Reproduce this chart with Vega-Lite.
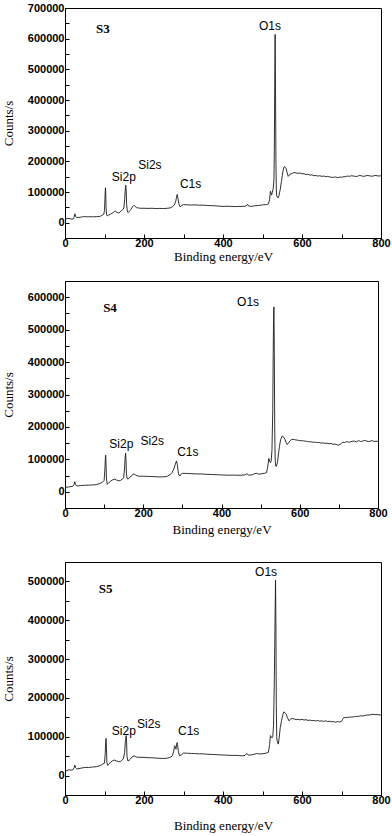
{
"$schema": "https://vega.github.io/schema/vega-lite/v6.json",
"padding": {"left": 1, "top": 1, "right": 2, "bottom": 0},
"background": "white",
"config": {
  "view": {"stroke": "black", "strokeWidth": 1},
  "axis": {"grid": false, "domainColor": "black", "tickColor": "black", "labelColor": "black", "titleColor": "black",
    "labelFont": "Liberation Sans", "labelFontWeight": "bold", "labelFontSize": 11,
    "titleFont": "Liberation Serif", "titleFontWeight": "normal", "titleFontSize": 13,
    "labelFlush": false, "labelOverlap": false, "tickSize": -4},
  "axisX": {"labelPadding": 3},
  "axisY": {"labelPadding": 5}
},
"datasets": {
  "s3": [{"E":0,"c":11000},{"E":5,"c":13000},{"E":10,"c":14000},{"E":15,"c":12000},{"E":20,"c":11000},{"E":23,"c":18000},{"E":25,"c":29000},{"E":27,"c":20000},{"E":30,"c":17000},{"E":35,"c":17000},{"E":40,"c":18000},{"E":45,"c":19000},{"E":50,"c":20000},{"E":55,"c":19000},{"E":60,"c":19500},{"E":70,"c":19000},{"E":80,"c":19500},{"E":90,"c":21000},{"E":95,"c":25000},{"E":98,"c":27000},{"E":100,"c":40000},{"E":101,"c":75000},{"E":102,"c":105000},{"E":102.5,"c":114000},{"E":103,"c":100000},{"E":104,"c":50000},{"E":105,"c":28000},{"E":107,"c":22000},{"E":110,"c":24000},{"E":115,"c":28000},{"E":120,"c":31000},{"E":125,"c":36000},{"E":128,"c":37000},{"E":132,"c":33000},{"E":137,"c":32000},{"E":142,"c":38000},{"E":146,"c":42000},{"E":149,"c":48000},{"E":151,"c":75000},{"E":153,"c":115000},{"E":154,"c":122000},{"E":155,"c":100000},{"E":156,"c":60000},{"E":158,"c":35000},{"E":160,"c":33000},{"E":163,"c":38000},{"E":167,"c":43000},{"E":171,"c":52000},{"E":174,"c":56000},{"E":177,"c":54000},{"E":181,"c":49000},{"E":186,"c":48000},{"E":190,"c":47000},{"E":200,"c":47000},{"E":210,"c":46500},{"E":220,"c":47000},{"E":230,"c":46000},{"E":240,"c":46500},{"E":250,"c":46000},{"E":260,"c":47000},{"E":266,"c":48000},{"E":272,"c":52000},{"E":277,"c":58000},{"E":280,"c":68000},{"E":282,"c":80000},{"E":284,"c":92000},{"E":286,"c":80000},{"E":288,"c":64000},{"E":290,"c":55000},{"E":292,"c":51000},{"E":295,"c":56000},{"E":300,"c":59000},{"E":310,"c":58000},{"E":320,"c":57500},{"E":330,"c":58000},{"E":340,"c":57000},{"E":350,"c":57000},{"E":360,"c":56000},{"E":370,"c":55500},{"E":380,"c":55000},{"E":390,"c":54000},{"E":400,"c":53000},{"E":410,"c":53500},{"E":420,"c":53000},{"E":430,"c":52500},{"E":440,"c":53000},{"E":450,"c":53000},{"E":458,"c":54000},{"E":462,"c":60000},{"E":465,"c":54000},{"E":470,"c":53000},{"E":480,"c":55000},{"E":490,"c":56000},{"E":500,"c":58000},{"E":510,"c":59000},{"E":515,"c":61000},{"E":518,"c":75000},{"E":520,"c":103000},{"E":522,"c":95000},{"E":523,"c":90000},{"E":525,"c":100000},{"E":527,"c":110000},{"E":529,"c":140000},{"E":530,"c":250000},{"E":531,"c":450000},{"E":532,"c":614000},{"E":533,"c":420000},{"E":534,"c":200000},{"E":535,"c":110000},{"E":536,"c":87000},{"E":538,"c":82000},{"E":540,"c":81000},{"E":542,"c":90000},{"E":545,"c":109000},{"E":548,"c":135000},{"E":550,"c":153000},{"E":552,"c":170000},{"E":555,"c":183000},{"E":558,"c":180000},{"E":560,"c":176000},{"E":562,"c":165000},{"E":565,"c":151000},{"E":568,"c":155000},{"E":570,"c":159000},{"E":575,"c":160000},{"E":580,"c":164000},{"E":585,"c":162000},{"E":590,"c":161000},{"E":595,"c":162000},{"E":600,"c":159000},{"E":605,"c":160000},{"E":610,"c":157000},{"E":615,"c":158000},{"E":620,"c":155000},{"E":625,"c":156000},{"E":630,"c":153000},{"E":635,"c":154000},{"E":640,"c":152000},{"E":645,"c":153000},{"E":650,"c":151000},{"E":655,"c":152000},{"E":660,"c":150000},{"E":665,"c":151000},{"E":670,"c":149000},{"E":675,"c":148000},{"E":680,"c":148000},{"E":685,"c":149000},{"E":690,"c":147000},{"E":695,"c":148500},{"E":700,"c":148000},{"E":705,"c":150000},{"E":710,"c":150000},{"E":715,"c":152000},{"E":720,"c":151000},{"E":725,"c":153000},{"E":730,"c":152000},{"E":735,"c":151000},{"E":740,"c":151000},{"E":745,"c":154000},{"E":750,"c":153000},{"E":755,"c":151000},{"E":760,"c":152000},{"E":765,"c":154000},{"E":770,"c":153000},{"E":775,"c":151500},{"E":780,"c":152000},{"E":785,"c":154000},{"E":790,"c":153000},{"E":795,"c":152000},{"E":800,"c":153000}],
  "s4": [{"E":0,"c":13000},{"E":5,"c":14000},{"E":10,"c":15000},{"E":15,"c":16000},{"E":20,"c":17000},{"E":23,"c":22000},{"E":25,"c":31000},{"E":27,"c":22000},{"E":30,"c":18000},{"E":40,"c":19000},{"E":50,"c":20000},{"E":60,"c":20500},{"E":70,"c":21000},{"E":80,"c":22000},{"E":90,"c":26000},{"E":96,"c":30000},{"E":100,"c":35000},{"E":102,"c":70000},{"E":103,"c":100000},{"E":104,"c":113000},{"E":105,"c":80000},{"E":106,"c":40000},{"E":108,"c":23000},{"E":112,"c":28000},{"E":117,"c":33000},{"E":122,"c":37000},{"E":127,"c":39000},{"E":132,"c":36000},{"E":137,"c":34000},{"E":142,"c":35000},{"E":147,"c":40000},{"E":150,"c":43000},{"E":152,"c":70000},{"E":154,"c":110000},{"E":155,"c":119000},{"E":156,"c":95000},{"E":157,"c":55000},{"E":159,"c":40000},{"E":162,"c":40000},{"E":166,"c":44000},{"E":171,"c":51000},{"E":176,"c":55000},{"E":180,"c":52000},{"E":185,"c":49000},{"E":190,"c":48000},{"E":200,"c":48000},{"E":210,"c":47500},{"E":220,"c":47000},{"E":230,"c":46500},{"E":240,"c":46000},{"E":250,"c":46000},{"E":260,"c":47000},{"E":268,"c":52000},{"E":274,"c":60000},{"E":278,"c":70000},{"E":282,"c":85000},{"E":285,"c":95000},{"E":287,"c":85000},{"E":289,"c":65000},{"E":291,"c":52000},{"E":294,"c":49000},{"E":297,"c":55000},{"E":300,"c":57000},{"E":310,"c":56500},{"E":320,"c":56000},{"E":330,"c":55500},{"E":340,"c":55000},{"E":350,"c":55000},{"E":360,"c":54000},{"E":370,"c":53500},{"E":380,"c":53000},{"E":390,"c":52500},{"E":400,"c":52000},{"E":410,"c":51500},{"E":420,"c":51000},{"E":430,"c":51500},{"E":440,"c":51000},{"E":450,"c":51000},{"E":460,"c":52000},{"E":465,"c":56000},{"E":470,"c":51000},{"E":480,"c":53000},{"E":485,"c":56000},{"E":490,"c":57000},{"E":495,"c":54000},{"E":500,"c":55000},{"E":510,"c":57000},{"E":515,"c":59000},{"E":518,"c":75000},{"E":521,"c":103000},{"E":523,"c":95000},{"E":525,"c":90000},{"E":527,"c":95000},{"E":529,"c":130000},{"E":531,"c":250000},{"E":532,"c":400000},{"E":533,"c":530000},{"E":534,"c":570000},{"E":535,"c":420000},{"E":536,"c":200000},{"E":537,"c":110000},{"E":538,"c":82000},{"E":540,"c":78000},{"E":543,"c":90000},{"E":546,"c":120000},{"E":548,"c":139000},{"E":551,"c":160000},{"E":555,"c":172000},{"E":558,"c":170000},{"E":562,"c":162000},{"E":565,"c":152000},{"E":568,"c":146000},{"E":572,"c":152000},{"E":576,"c":158000},{"E":580,"c":162000},{"E":585,"c":161000},{"E":590,"c":160000},{"E":595,"c":159000},{"E":600,"c":158000},{"E":605,"c":157500},{"E":610,"c":157000},{"E":615,"c":156000},{"E":620,"c":155000},{"E":625,"c":154000},{"E":630,"c":154000},{"E":635,"c":152500},{"E":640,"c":153000},{"E":645,"c":151500},{"E":650,"c":152000},{"E":655,"c":150000},{"E":660,"c":151000},{"E":665,"c":149000},{"E":670,"c":150000},{"E":675,"c":148000},{"E":680,"c":149000},{"E":685,"c":146500},{"E":690,"c":147000},{"E":695,"c":145000},{"E":700,"c":144000},{"E":705,"c":148000},{"E":710,"c":153000},{"E":715,"c":152000},{"E":720,"c":155000},{"E":725,"c":153000},{"E":730,"c":154000},{"E":735,"c":156000},{"E":740,"c":156000},{"E":745,"c":154000},{"E":750,"c":158000},{"E":755,"c":155000},{"E":760,"c":156000},{"E":765,"c":158000},{"E":770,"c":157000},{"E":775,"c":155000},{"E":780,"c":156000},{"E":785,"c":158000},{"E":790,"c":155000},{"E":795,"c":156000},{"E":800,"c":155000}],
  "s5": [{"E":0,"c":11000},{"E":5,"c":13000},{"E":10,"c":15000},{"E":15,"c":14000},{"E":20,"c":15000},{"E":23,"c":20000},{"E":25,"c":27000},{"E":27,"c":20000},{"E":30,"c":17000},{"E":40,"c":19000},{"E":50,"c":21000},{"E":60,"c":21000},{"E":70,"c":22000},{"E":80,"c":23000},{"E":90,"c":26000},{"E":96,"c":30000},{"E":100,"c":32000},{"E":102,"c":60000},{"E":103,"c":85000},{"E":104,"c":96000},{"E":105,"c":70000},{"E":106,"c":35000},{"E":108,"c":26000},{"E":112,"c":30000},{"E":116,"c":35000},{"E":120,"c":38000},{"E":125,"c":40000},{"E":130,"c":38000},{"E":135,"c":36000},{"E":140,"c":36000},{"E":145,"c":40000},{"E":148,"c":44000},{"E":151,"c":60000},{"E":153,"c":90000},{"E":155,"c":103000},{"E":156,"c":85000},{"E":157,"c":50000},{"E":159,"c":38000},{"E":162,"c":39000},{"E":166,"c":43000},{"E":171,"c":49000},{"E":175,"c":51000},{"E":180,"c":48000},{"E":185,"c":47000},{"E":190,"c":47000},{"E":200,"c":47000},{"E":210,"c":46000},{"E":220,"c":46000},{"E":230,"c":45000},{"E":240,"c":44500},{"E":250,"c":44000},{"E":260,"c":45000},{"E":268,"c":48000},{"E":272,"c":51000},{"E":275,"c":62000},{"E":277,"c":75000},{"E":278,"c":77000},{"E":280,"c":70000},{"E":281,"c":68000},{"E":282,"c":75000},{"E":283,"c":83000},{"E":284,"c":85000},{"E":285,"c":80000},{"E":287,"c":62000},{"E":290,"c":51000},{"E":294,"c":53000},{"E":300,"c":58000},{"E":310,"c":57500},{"E":320,"c":57000},{"E":330,"c":56500},{"E":340,"c":56000},{"E":350,"c":56000},{"E":360,"c":55000},{"E":370,"c":54500},{"E":380,"c":54000},{"E":390,"c":53500},{"E":400,"c":53000},{"E":410,"c":52500},{"E":420,"c":52000},{"E":430,"c":52000},{"E":440,"c":51500},{"E":450,"c":51000},{"E":456,"c":52000},{"E":460,"c":57000},{"E":464,"c":53000},{"E":470,"c":53000},{"E":480,"c":55000},{"E":485,"c":57000},{"E":490,"c":56000},{"E":500,"c":56000},{"E":510,"c":58000},{"E":515,"c":60000},{"E":518,"c":80000},{"E":520,"c":103000},{"E":522,"c":100000},{"E":524,"c":97000},{"E":526,"c":100000},{"E":528,"c":130000},{"E":530,"c":250000},{"E":532,"c":420000},{"E":533,"c":503000},{"E":534,"c":380000},{"E":535,"c":180000},{"E":536,"c":100000},{"E":537,"c":90000},{"E":540,"c":81000},{"E":542,"c":95000},{"E":545,"c":124000},{"E":548,"c":140000},{"E":551,"c":155000},{"E":554,"c":164000},{"E":557,"c":162000},{"E":560,"c":158000},{"E":563,"c":150000},{"E":567,"c":141000},{"E":571,"c":145000},{"E":575,"c":147000},{"E":580,"c":146000},{"E":585,"c":144000},{"E":590,"c":145000},{"E":595,"c":143500},{"E":600,"c":145000},{"E":605,"c":143000},{"E":610,"c":144000},{"E":615,"c":142000},{"E":620,"c":143000},{"E":625,"c":141500},{"E":630,"c":142000},{"E":635,"c":140500},{"E":640,"c":142000},{"E":645,"c":140000},{"E":650,"c":141000},{"E":655,"c":139500},{"E":660,"c":141000},{"E":665,"c":139000},{"E":670,"c":140000},{"E":675,"c":138500},{"E":680,"c":139000},{"E":685,"c":137500},{"E":690,"c":139000},{"E":695,"c":138000},{"E":700,"c":139000},{"E":703,"c":145000},{"E":706,"c":150000},{"E":710,"c":149000},{"E":715,"c":150000},{"E":720,"c":150000},{"E":725,"c":151000},{"E":730,"c":151000},{"E":735,"c":152500},{"E":740,"c":152000},{"E":745,"c":153000},{"E":750,"c":154000},{"E":755,"c":153500},{"E":760,"c":155000},{"E":765,"c":156000},{"E":770,"c":156000},{"E":775,"c":157000},{"E":780,"c":158000},{"E":785,"c":157000},{"E":790,"c":157000},{"E":795,"c":156500},{"E":800,"c":156000}]
},
"vconcat": [
  {
    "width": 316, "height": 230,
    "encoding": {
      "x": {"field": "E", "type": "quantitative", "scale": {"domain": [0, 800], "nice": false}, "axis": {"title": "Binding energy/eV", "labelOverlap": false, "values": [0,100,200,300,400,500,600,700,800], "labelExpr": "datum.value % 200 === 0 ? datum.label : ''", "titlePadding": 2}},
      "y": {"field": "c", "type": "quantitative", "scale": {"domain": [-50000, 700000], "nice": false, "zero": false}, "axis": {"title": "Counts/s", "labelOverlap": false, "format": "d", "values": [0,50000,100000,150000,200000,250000,300000,350000,400000,450000,500000,550000,600000,650000,700000], "labelExpr": "datum.value % 100000 === 0 ? datum.label : ''", "titlePadding": 12}}
    },
    "layer": [
      {"data": {"name": "s3"}, "mark": {"type": "line", "color": "#1a1a1a", "strokeWidth": 0.9}},
      {"data": {"values": [{"E": 519, "c": 640000, "t": "O1s"}, {"E": 149, "c": 148000, "t": "Si2p"}, {"E": 215, "c": 187000, "t": "Si2s"}, {"E": 318, "c": 127000, "t": "C1s"}]},
       "mark": {"type": "text", "font": "Liberation Sans", "fontSize": 12, "color": "black"},
       "encoding": {"text": {"field": "t"}}},
      {"data": {"values": [{"E": 96, "c": 630000, "t": "S3"}]},
       "mark": {"type": "text", "font": "Liberation Serif", "fontWeight": "bold", "fontSize": 13, "color": "black"},
       "encoding": {"text": {"field": "t"}}}
    ]
  },
  {
    "spacing": 24,
    "vconcat": [
      {
        "width": 313, "height": 227,
        "encoding": {
          "x": {"field": "E", "type": "quantitative", "scale": {"domain": [0, 800], "nice": false}, "axis": {"title": "Binding energy/eV", "labelOverlap": false, "values": [0,100,200,300,400,500,600,700,800], "labelExpr": "datum.value % 200 === 0 ? datum.label : ''", "titlePadding": 5}},
          "y": {"field": "c", "type": "quantitative", "scale": {"domain": [-50000, 650000], "nice": false, "zero": false}, "axis": {"title": "Counts/s", "labelOverlap": false, "format": "d", "values": [0,50000,100000,150000,200000,250000,300000,350000,400000,450000,500000,550000,600000], "labelExpr": "datum.value % 100000 === 0 ? datum.label : ''", "titlePadding": 12}}
        },
        "layer": [
          {"data": {"name": "s4"}, "mark": {"type": "line", "color": "#1a1a1a", "strokeWidth": 0.9}},
          {"data": {"values": [{"E": 468, "c": 586000, "t": "O1s"}, {"E": 144, "c": 148000, "t": "Si2p"}, {"E": 223, "c": 158000, "t": "Si2s"}, {"E": 314, "c": 124000, "t": "C1s"}]},
           "mark": {"type": "text", "font": "Liberation Sans", "fontSize": 12, "color": "black"},
           "encoding": {"text": {"field": "t"}}},
          {"data": {"values": [{"E": 115, "c": 566000, "t": "S4"}]},
           "mark": {"type": "text", "font": "Liberation Serif", "fontWeight": "bold", "fontSize": 13, "color": "black"},
           "encoding": {"text": {"field": "t"}}}
        ]
      },
      {
        "width": 316, "height": 233,
        "encoding": {
          "x": {"field": "E", "type": "quantitative", "scale": {"domain": [0, 800], "nice": false}, "axis": {"title": "Binding energy/eV", "labelOverlap": false, "values": [0,100,200,300,400,500,600,700,800], "labelExpr": "datum.value % 200 === 0 ? datum.label : ''", "titlePadding": 14}},
          "y": {"field": "c", "type": "quantitative", "scale": {"domain": [-50000, 550000], "nice": false, "zero": false}, "axis": {"title": "Counts/s", "labelOverlap": false, "format": "d", "values": [0,50000,100000,150000,200000,250000,300000,350000,400000,450000,500000], "labelExpr": "datum.value % 100000 === 0 ? datum.label : ''", "titlePadding": 12}}
        },
        "layer": [
          {"data": {"name": "s5"}, "mark": {"type": "line", "color": "#1a1a1a", "strokeWidth": 0.9}},
          {"data": {"values": [{"E": 509, "c": 525000, "t": "O1s"}, {"E": 149, "c": 116000, "t": "Si2p"}, {"E": 212, "c": 133000, "t": "Si2s"}, {"E": 313, "c": 114000, "t": "C1s"}]},
           "mark": {"type": "text", "font": "Liberation Sans", "fontSize": 12, "color": "black"},
           "encoding": {"text": {"field": "t"}}},
          {"data": {"values": [{"E": 103, "c": 480000, "t": "S5"}]},
           "mark": {"type": "text", "font": "Liberation Serif", "fontWeight": "bold", "fontSize": 13, "color": "black"},
           "encoding": {"text": {"field": "t"}}}
        ]
      }
    ]
  }
],
"spacing": 16
}
